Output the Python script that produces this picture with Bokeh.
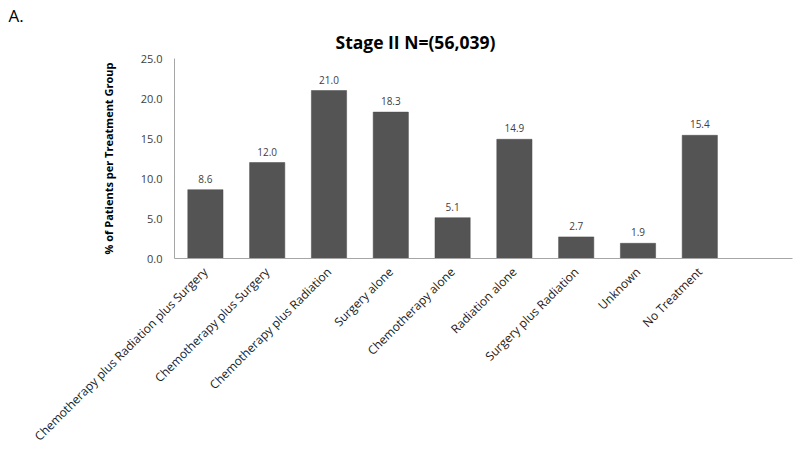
from bokeh.plotting import figure
from bokeh.models import ColumnDataSource, FixedTicker, NumeralTickFormatter, Title, Range1d
from bokeh.core.properties import value
from bokeh.embed import file_html
from bokeh.resources import INLINE
import math

categories = [
    "Chemotherapy plus Radiation plus Surgery",
    "Chemotherapy plus Surgery",
    "Chemotherapy plus Radiation",
    "Surgery alone",
    "Chemotherapy alone",
    "Radiation alone",
    "Surgery plus Radiation",
    "Unknown",
    "No Treatment",
]
values = [8.6, 12.0, 21.0, 18.3, 5.1, 14.9, 2.7, 1.9, 15.4]
y_ticks = [0, 5, 10, 15, 20, 25]

n_slots = len(categories) + 1
xs = [i + 0.5 for i in range(len(categories))]
labels = ["%.1f" % v for v in values]

src = ColumnDataSource(dict(x=xs, top=values, lab=labels))

FONT = "Open Sans"

p = figure(width=798, height=453, output_backend="svg", toolbar_location=None,
           x_range=Range1d(0, n_slots), y_range=Range1d(0, 25),
           min_border_left=174, min_border_right=6, min_border_top=58, min_border_bottom=195)
p.outline_line_color = None
p.xgrid.grid_line_color = None
p.ygrid.grid_line_color = None

p.vbar(x="x", top="top", width=0.57, bottom=0, source=src,
       fill_color="#545454", line_color="#4a4a4a", line_width=0.5)

p.text(x="x", y="top", text="lab", source=src, y_offset=-7,
       text_align="center", text_baseline="bottom",
       text_font=value(FONT), text_font_size="10px", text_color="#404040")

# axes
p.yaxis.ticker = FixedTicker(ticks=y_ticks)
p.yaxis.formatter = NumeralTickFormatter(format="0.0")
p.yaxis.major_tick_line_color = None
p.yaxis.minor_tick_line_color = None
p.yaxis.axis_line_color = "#a6a6a6"
p.yaxis.major_label_text_font = FONT
p.yaxis.major_label_text_font_size = "11px"
p.yaxis.major_label_text_color = "#404040"
p.yaxis.major_label_standoff = 6
p.yaxis.axis_label = "% of Patients per Treatment Group"
p.yaxis.axis_label_text_font = FONT
p.yaxis.axis_label_text_font_style = "bold"
p.yaxis.axis_label_text_font_size = "11px"
p.yaxis.axis_label_text_color = "#000000"
p.yaxis.axis_label_standoff = 22

p.xaxis.ticker = FixedTicker(ticks=xs)
p.xaxis.major_label_overrides = {x: c for x, c in zip(xs, categories)}
p.xaxis.major_label_orientation = math.pi / 4
p.xaxis.major_tick_line_color = None
p.xaxis.minor_tick_line_color = None
p.xaxis.axis_line_color = "#a6a6a6"
p.xaxis.major_label_text_font = FONT
p.xaxis.major_label_text_font_size = "12px"
p.xaxis.major_label_text_color = "#1a1a1a"
p.xaxis.major_label_standoff = 5

# main title (closest to the frame), then the panel letter above it
p.add_layout(Title(text="Stage II N=(56,039)", align="left", offset=161,
                   vertical_align="top",
                   text_font=FONT, text_font_size="17.5px", text_font_style="bold",
                   text_color="#000000", standoff=6), "above")
p.add_layout(Title(text="A.", align="left", offset=-166,
                   text_font=FONT, text_font_size="17px", text_font_style="normal",
                   text_color="#000000", standoff=0), "above")

open("out.html", "w").write(file_html(p, INLINE))
